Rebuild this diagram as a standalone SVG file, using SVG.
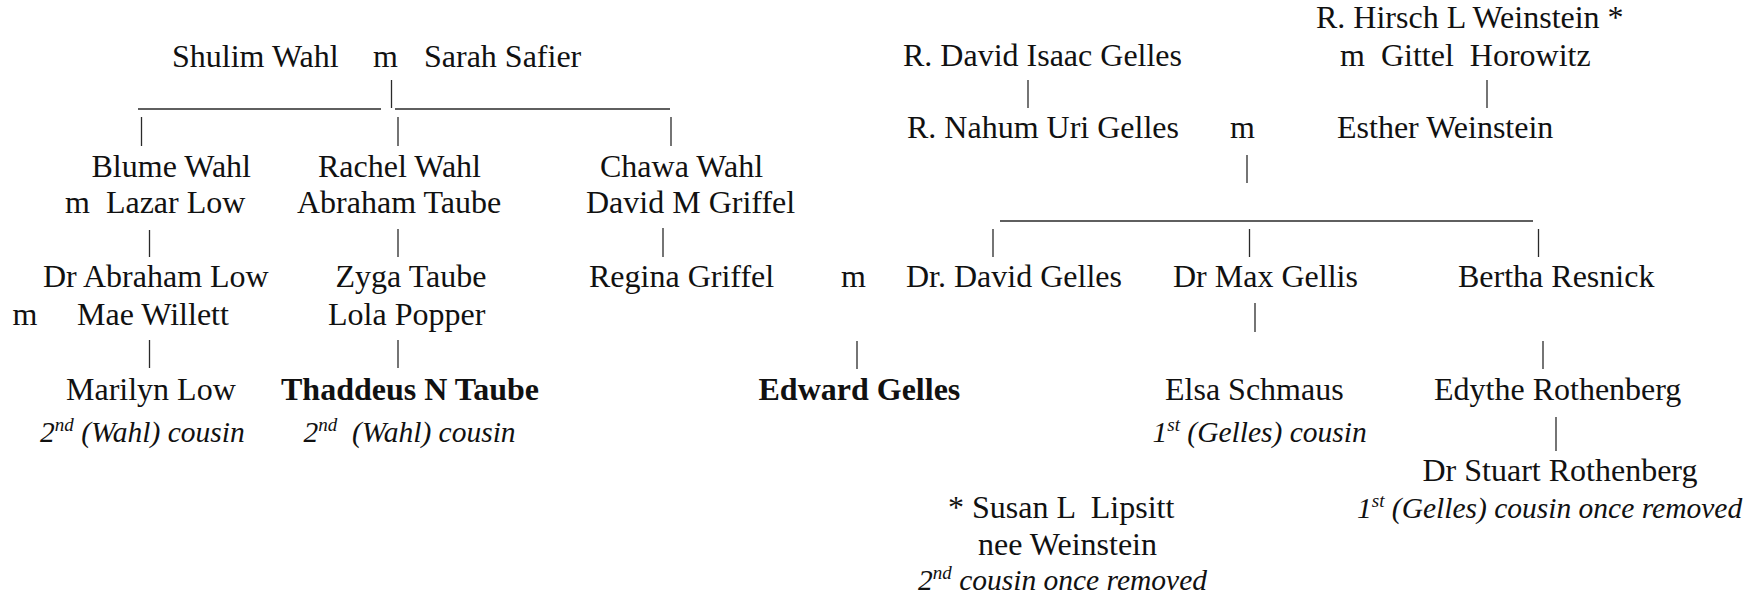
<svg xmlns="http://www.w3.org/2000/svg" width="1746" height="595" viewBox="0 0 1746 595" xml:space="preserve">
<style>
text{font-family:'Liberation Serif',serif;fill:#111;white-space:pre}
.n{font-size:32px}
.b{font-size:32px;font-weight:bold}
.i{font-size:29.5px;font-style:italic}
.sup{font-size:19px}
#connectors line{stroke:#2a2a2a;stroke-width:1.3}
#connectors line.h{stroke-width:1.6}
</style>
<rect width="1746" height="595" fill="#fff"/>
<g id="connectors">
<line x1="391.5" y1="80" x2="391.5" y2="108"/>
<line class="h" x1="138" y1="109" x2="381" y2="109"/>
<line class="h" x1="395" y1="109" x2="670" y2="109"/>
<line x1="141.5" y1="117" x2="141.5" y2="146"/>
<line x1="398" y1="117" x2="398" y2="146"/>
<line x1="671" y1="117" x2="671" y2="146"/>
<line x1="149.5" y1="230" x2="149.5" y2="257"/>
<line x1="398" y1="229" x2="398" y2="257"/>
<line x1="663" y1="228" x2="663" y2="257"/>
<line x1="149.5" y1="340" x2="149.5" y2="368"/>
<line x1="398" y1="340" x2="398" y2="368"/>
<line x1="1028" y1="80" x2="1028" y2="108"/>
<line x1="1487" y1="80" x2="1487" y2="108"/>
<line x1="1247" y1="155" x2="1247" y2="183"/>
<line class="h" x1="1000" y1="221" x2="1533" y2="221"/>
<line x1="993" y1="229" x2="993" y2="257"/>
<line x1="1249.5" y1="229" x2="1249.5" y2="257"/>
<line x1="1538.5" y1="229" x2="1538.5" y2="257"/>
<line x1="1255" y1="303" x2="1255" y2="332"/>
<line x1="857" y1="341" x2="857" y2="369"/>
<line x1="1543" y1="341" x2="1543" y2="369"/>
<line x1="1556" y1="417" x2="1556" y2="451"/>
</g>
<g id="shulim"><text class="n" x="172" y="67">Shulim Wahl</text></g>
<g id="m-shulim-sarah"><text class="n" x="373" y="67">m</text></g>
<g id="sarah"><text class="n" x="424" y="67">Sarah Safier</text></g>
<g id="hirsch"><text class="n" x="1316" y="28">R. Hirsch L Weinstein *</text><text class="n" x="1340" y="66">m  Gittel  Horowitz</text></g>
<g id="david-isaac"><text class="n" x="903" y="66">R. David Isaac Gelles</text></g>
<g id="nahum"><text class="n" x="907" y="138">R. Nahum Uri Gelles</text></g>
<g id="m-nahum-esther"><text class="n" x="1230" y="138">m</text></g>
<g id="esther"><text class="n" x="1337" y="138">Esther Weinstein</text></g>
<g id="blume"><text class="n" x="91.5" y="177">Blume Wahl</text><text class="n" x="65" y="213">m  Lazar Low</text></g>
<g id="rachel"><text class="n" x="318" y="177">Rachel Wahl</text><text class="n" x="297" y="213">Abraham Taube</text></g>
<g id="chawa"><text class="n" x="600" y="177">Chawa Wahl</text><text class="n" x="586" y="213">David M Griffel</text></g>
<g id="abraham-low"><text class="n" x="43" y="287">Dr Abraham Low</text><text class="n" x="12.5" y="325">m</text><text class="n" x="77" y="325">Mae Willett</text></g>
<g id="zyga"><text class="n" x="335.5" y="287">Zyga Taube</text><text class="n" x="328" y="325">Lola Popper</text></g>
<g id="regina"><text class="n" x="589" y="287">Regina Griffel</text></g>
<g id="m-regina-david"><text class="n" x="841" y="287">m</text></g>
<g id="david-gelles"><text class="n" x="906" y="287">Dr. David Gelles</text></g>
<g id="max"><text class="n" x="1173" y="287">Dr Max Gellis</text></g>
<g id="bertha"><text class="n" x="1458" y="287">Bertha Resnick</text></g>
<g id="marilyn"><text class="n" x="66" y="400">Marilyn Low</text><text class="i" x="40" y="442">2<tspan class="sup" dy="-11">nd</tspan><tspan dy="11"> (Wahl) cousin</tspan></text></g>
<g id="thaddeus"><text class="b" x="281" y="400">Thaddeus N Taube</text><text class="i" x="303.5" y="442">2<tspan class="sup" dy="-11">nd</tspan><tspan dy="11">  (Wahl) cousin</tspan></text></g>
<g id="edward"><text class="b" x="758.5" y="400">Edward Gelles</text></g>
<g id="elsa"><text class="n" x="1165" y="400">Elsa Schmaus</text><text class="i" x="1152.5" y="442">1<tspan class="sup" dy="-11">st</tspan><tspan dy="11"> (Gelles) cousin</tspan></text></g>
<g id="edythe"><text class="n" x="1434" y="400">Edythe Rothenberg</text></g>
<g id="stuart"><text class="n" x="1422.5" y="481">Dr Stuart Rothenberg</text><text class="i" x="1357" y="518">1<tspan class="sup" dy="-11">st</tspan><tspan dy="11"> (Gelles) cousin once removed</tspan></text></g>
<g id="susan"><text class="n" x="948" y="518">* Susan L  Lipsitt</text><text class="n" x="978" y="555">nee Weinstein</text><text class="i" x="918" y="590">2<tspan class="sup" dy="-11">nd</tspan><tspan dy="11"> cousin once removed</tspan></text></g>
</svg>
